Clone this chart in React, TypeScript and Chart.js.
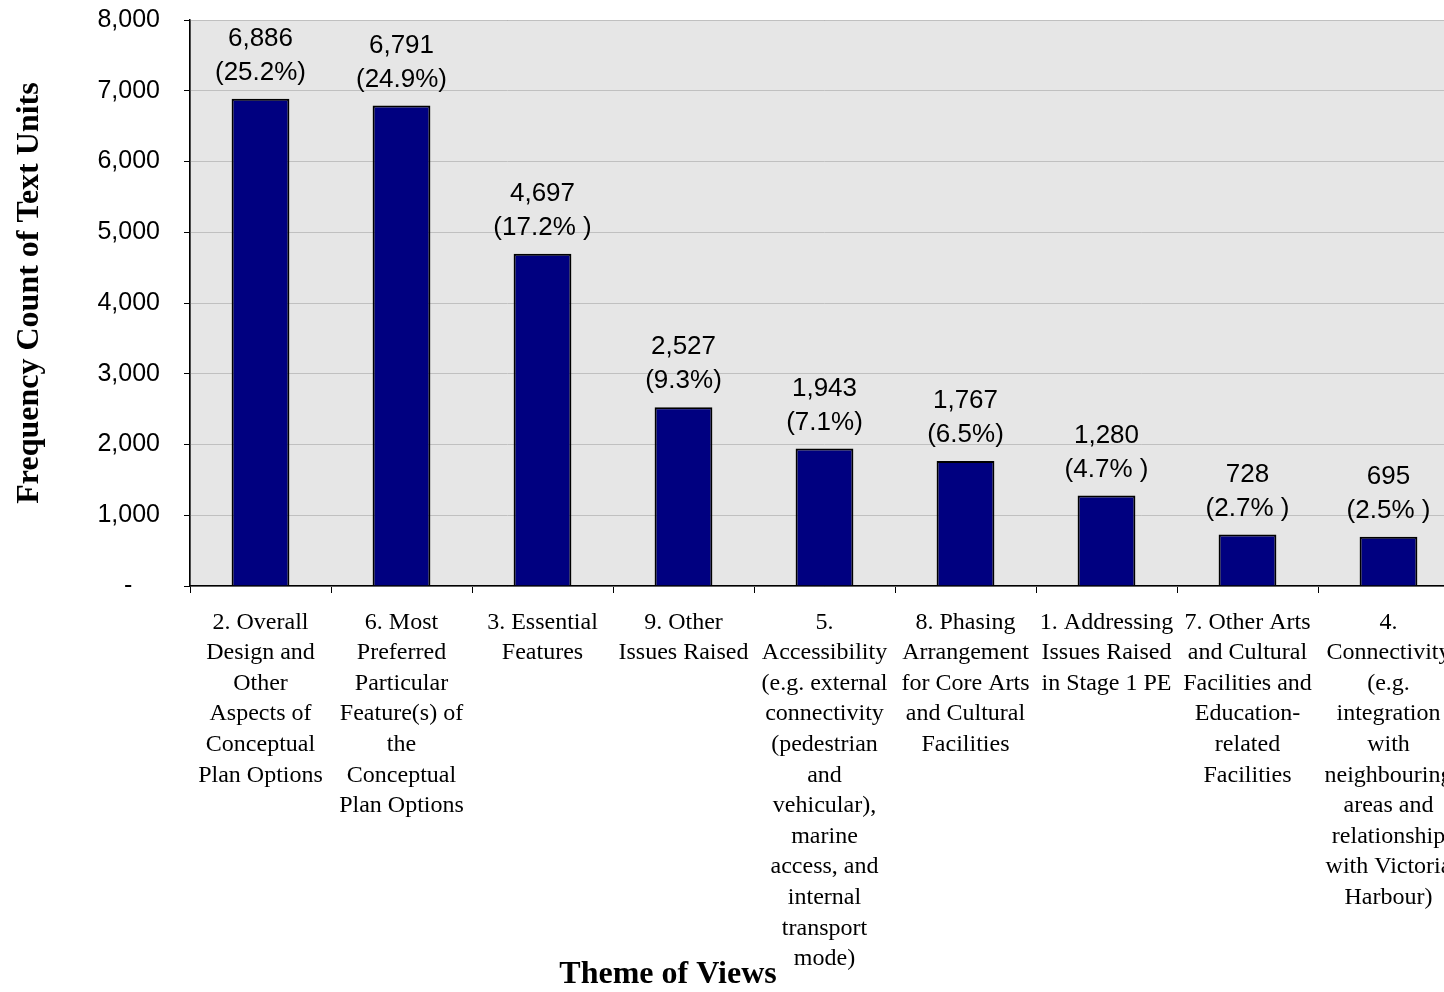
import React, { useEffect, useRef } from "react";
import { Chart, registerables } from "chart.js";

Chart.register(...registerables);

const categories: string[][] = [
  ["2. Overall", "Design and", "Other", "Aspects of", "Conceptual", "Plan Options"],
  ["6. Most", "Preferred", "Particular", "Feature(s) of", "the", "Conceptual", "Plan Options"],
  ["3. Essential", "Features"],
  ["9. Other", "Issues Raised"],
  ["5.", "Accessibility", "(e.g. external", "connectivity", "(pedestrian", "and", "vehicular),", "marine", "access, and", "internal", "transport", "mode)"],
  ["8. Phasing", "Arrangement", "for Core Arts", "and Cultural", "Facilities"],
  ["1. Addressing", "Issues Raised", "in Stage 1 PE"],
  ["7. Other Arts", "and Cultural", "Facilities and", "Education-", "related", "Facilities"],
  ["4.", "Connectivity", "(e.g.", "integration", "with", "neighbouring", "areas and", "relationship", "with Victoria", "Harbour)"],
];

const counts: number[] = [6886, 6791, 4697, 2527, 1943, 1767, 1280, 728, 695];
const percentLabels: string[] = ["(25.2%)", "(24.9%)", "(17.2% )", "(9.3%)", "(7.1%)", "(6.5%)", "(4.7% )", "(2.7% )", "(2.5% )"];

const yMax = 8000;
const yStep = 1000;
const yTitle = "Frequency Count of Text Units";
const xTitle = "Theme of Views";

const SANS = "'Liberation Sans', Arial, sans-serif";
const SERIF = "'Liberation Serif', 'Times New Roman', serif";

const fmt = (v: number) => v.toLocaleString("en-US");

export default function App() {
  const ref = useRef<HTMLCanvasElement | null>(null);

  useEffect(() => {
    if (!ref.current) return;

    const bgPlugin = {
      id: "plotBg",
      beforeDraw(chart: any) {
        const { ctx, chartArea } = chart;
        ctx.save();
        ctx.fillStyle = "#e6e6e6";
        ctx.fillRect(chartArea.left, chartArea.top, chartArea.right - chartArea.left, chartArea.bottom - chartArea.top);
        ctx.strokeStyle = "#9a9a9a";
        ctx.lineWidth = 1;
        ctx.strokeRect(chartArea.left + 0.5, chartArea.top + 0.5, chartArea.right - chartArea.left, chartArea.bottom - chartArea.top);
        ctx.restore();
      },
    };

    const labelPlugin = {
      id: "labelsAndTitles",
      afterDatasetsDraw(chart: any) {
        const { ctx } = chart;
        const meta = chart.getDatasetMeta(0);
        ctx.save();
        ctx.fillStyle = "#000";
        ctx.font = `26px ${SANS}`;
        ctx.textAlign = "center";
        ctx.textBaseline = "middle";
        meta.data.forEach((el: any, i: number) => {
          ctx.fillText(percentLabels[i], el.x, el.y - 26);
          ctx.fillText(fmt(counts[i]), el.x, el.y - 60);
        });
        ctx.restore();
      },
      afterDraw(chart: any) {
        const { ctx } = chart;
        ctx.save();
        ctx.fillStyle = "#000";
        ctx.textAlign = "center";
        ctx.textBaseline = "middle";
        ctx.font = `bold 32px ${SERIF}`;
        ctx.translate(30, 293);
        ctx.rotate(-Math.PI / 2);
        ctx.fillText(yTitle, 0, 0);
        ctx.restore();
        ctx.save();
        ctx.fillStyle = "#000";
        ctx.textAlign = "center";
        ctx.textBaseline = "middle";
        ctx.font = `bold 32px ${SERIF}`;
        ctx.fillText(xTitle, 668, 975);
        ctx.restore();
      },
    };

    const chart = new Chart(ref.current, {
      type: "bar",
      data: {
        labels: categories,
        datasets: [
          {
            data: counts,
            backgroundColor: "#000080",
            borderColor: "#000000",
            borderWidth: 2,
            borderSkipped: "bottom",
            barPercentage: 0.41,
            categoryPercentage: 1,
          },
        ],
      },
      options: {
        animation: false,
        responsive: false,
        devicePixelRatio: 1,
        layout: { padding: { top: 20, right: 11, left: 0, bottom: 0 } },
        plugins: {
          legend: { display: false },
          tooltip: { enabled: false },
          title: { display: false },
        },
        scales: {
          x: {
            border: { display: true, color: "#000", width: 1.5 },
            grid: {
              offset: true,
              drawOnChartArea: false,
              drawTicks: true,
              tickLength: 7,
              tickColor: "#000",
              lineWidth: 1,
            },
            ticks: {
              color: "#000",
              font: { family: SERIF, size: 24, lineHeight: 30.6 / 24 },
              maxRotation: 0,
              minRotation: 0,
              autoSkip: false,
              padding: 14,
            },
            afterFit(scale: any) {
              scale.height = 406;
              scale.paddingLeft = 0;
              scale.paddingRight = 0;
              scale.paddingTop = 0;
              scale.paddingBottom = 0;
            },
          },
          y: {
            min: 0,
            max: yMax,
            border: { display: true, color: "#000", width: 1.5 },
            grid: {
              color: "#c0c0c0",
              lineWidth: 1,
              tickLength: 6,
              tickColor: "#000",
            },
            ticks: {
              stepSize: yStep,
              color: "#000",
              padding: 24,
              font: { family: SANS, size: 25 },
              callback: (v: any) => (Number(v) === 0 ? "-    " : fmt(Number(v))),
            },
            afterFit(scale: any) {
              scale.width = 190;
              scale.paddingTop = 0;
              scale.paddingBottom = 0;
              scale.paddingLeft = 0;
              scale.paddingRight = 0;
            },
          },
        },
      },
      plugins: [bgPlugin, labelPlugin],
    });

    return () => chart.destroy();
  }, []);

  return (
    <div style={{ position: "absolute", left: 0, top: 0, width: 1444, height: 992, overflow: "hidden", background: "#fff" }}>
      <canvas ref={ref} width={1470} height={992} style={{ width: 1470, height: 992, display: "block" }} />
    </div>
  );
}
